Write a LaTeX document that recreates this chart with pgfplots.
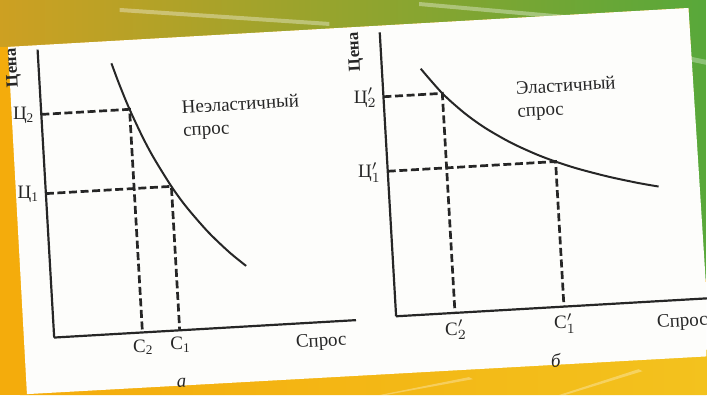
\documentclass[border=0pt]{standalone}
\usepackage{fontspec}
\setmainfont{Liberation Serif}
\usepackage{pgfplots}
\pgfplotsset{compat=1.18}
\definecolor{bgorange}{HTML}{F4AC0C}
\definecolor{bggold}{HTML}{CDA022}
\definecolor{bglime}{HTML}{B8C92C}
\definecolor{bggreen}{HTML}{58A83A}
\definecolor{bgyellow}{HTML}{F3C21E}
\definecolor{ink}{HTML}{262626}
\definecolor{card}{HTML}{FDFDFB}
\pgfplotsset{
  panel/.style={
    x={(4.9917pt,0.2878pt)}, y={(-0.2878pt,4.9917pt)},
    anchor=origin, enlargelimits=false, clip=false,
    axis lines=left, axis line style={-, line width=1.1pt, draw=ink},
    major tick length=0pt,
    tick label style={font=\fontsize{9.5}{11}\selectfont, text=ink},
  },
  dashline/.style={ink, line width=1.35pt, dash pattern=on 4pt off 1.8pt},
}
\begin{document}
\begin{tikzpicture}
\begin{axis}[anchor=south west, at={(0,0)}, x=0.5pt, y=0.5pt,
  xmin=0, xmax=708, ymin=0, ymax=396, y dir=reverse, hide axis, clip=true]
\addplot[draw=none, fill=bgorange] coordinates {(0,0)(708,0)(708,396)(0,396)} -- cycle;
\addplot[draw=none, left color=bggold, middle color=bglime, right color=bggreen]
  coordinates {(0,0)(708,0)(708,280)(706,280)(690,8)(8,47)(0,47)} -- cycle;
\addplot[draw=none, left color=bgorange, right color=bgyellow]
  coordinates {(20,396)(712,350)(712,396)} -- cycle;
\addplot[draw=none, fill=white, opacity=0.35] coordinates {(120,8)(330,22)(330,26)(120,12)} -- cycle;
\addplot[draw=none, fill=white, opacity=0.35] coordinates {(420,2)(600,18)(600,22)(420,6)} -- cycle;
\addplot[draw=none, fill=white, opacity=0.3] coordinates {(560,30)(708,60)(708,65)(560,34)} -- cycle;
\addplot[draw=none, fill=white, opacity=0.3] coordinates {(380,396)(470,378)(474,380)(386,396)} -- cycle;
\addplot[draw=none, fill=white, opacity=0.3] coordinates {(560,396)(640,370)(644,372)(566,396)} -- cycle;
\addplot[draw=none, fill=card] coordinates {(8,47)(690,8)(712,357)(27,395)} -- cycle;
\node[rotate=3.3, anchor=west, align=left, text=ink, font=\fontsize{9.5}{11.5}\selectfont] at (axis cs:176,121) {Неэластичный\\спрос};
\node[rotate=3.3, anchor=west, align=left, text=ink, font=\fontsize{9.5}{11.5}\selectfont] at (axis cs:511,102) {Эластичный\\спрос};
\node[rotate=3.3, text=ink, font=\fontsize{9.5}{11}\selectfont] at (axis cs:322,343) {Спрос};
\node[rotate=3.3, text=ink, font=\fontsize{9.5}{11}\selectfont] at (axis cs:684,323) {Спрос};
\node[rotate=93.3, text=ink, font=\bfseries\fontsize{8.5}{10}\selectfont] at (axis cs:13,68) {Цена};
\node[rotate=93.3, text=ink, font=\bfseries\fontsize{8.5}{10}\selectfont] at (axis cs:356,52) {Цена};
\node[rotate=3.3, text=ink, font=\itshape\fontsize{9.5}{11}\selectfont] at (axis cs:182,384) {а};
\node[rotate=3.3, text=ink, font=\itshape\fontsize{9.5}{11}\selectfont] at (axis cs:557,361) {б};
\end{axis}
% left panel: inelastic demand
\begin{axis}[panel, at={(27.15pt,28.85pt)},
  xmin=0, xmax=30.3, ymin=0, ymax=28.9,
  xtick={8.86,12.6}, xticklabels={С\textsubscript{2},С\textsubscript{1}},
  ytick={14.45,22.40}, yticklabels={Ц\textsubscript{1},Ц\textsubscript{2}}]
\addplot[dashline] coordinates {(0,22.40)(8.86,22.40)(8.86,0)};
\addplot[dashline] coordinates {(0,14.45)(12.6,14.45)(12.6,0)};
\addplot[ink, line width=1pt, smooth] coordinates {(7.31,27.11)(8.0,24.88)(8.86,22.40)(10.0,19.56)(11.0,17.40)(12.6,14.45)(14.0,12.28)(16.0,9.69)(18.0,7.54)(19.62,6.06)};
\end{axis}
% right panel: elastic demand
\begin{axis}[panel, at={(198.5pt,39.5pt)},
  xmin=0, xmax=31.2, ymin=0, ymax=28.5,
  xtick={5.91,16.85}, xticklabels={С$'_2$,С$'_1$},
  ytick={14.56,22.04}, yticklabels={Ц$'_1$,Ц$'_2$}]
\addplot[dashline] coordinates {(0,22.04)(5.91,22.04)(5.91,0)};
\addplot[dashline] coordinates {(0,14.56)(16.85,14.56)(16.85,0)};
\addplot[ink, line width=1pt, smooth] coordinates {(3.89,24.63)(5.91,22.04)(8.0,19.95)(10.0,18.33)(12.5,16.70)(15.0,15.38)(16.85,14.56)(19.0,13.73)(22.0,12.76)(25.0,11.94)(27.01,11.47)};
\end{axis}
\end{tikzpicture}
\end{document}
